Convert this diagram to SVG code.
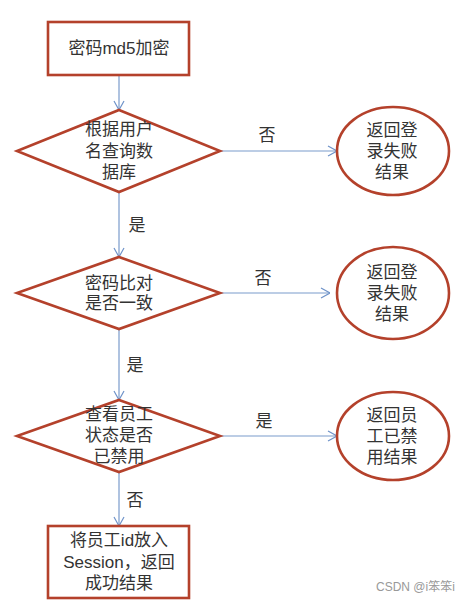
<svg xmlns="http://www.w3.org/2000/svg" width="476" height="602" viewBox="0 0 476 602">
<defs>
<marker id="arr" viewBox="0 0 10 12" refX="10" refY="6" markerWidth="10" markerHeight="12" markerUnits="userSpaceOnUse" orient="auto">
<path d="M1,1 L10,6 L1,11" fill="none" stroke="#6f93c9" stroke-width="1.2"/>
</marker>
<style>
.box{fill:#fff;stroke:#b4412b;stroke-width:2.6}
.t{font-family:"Liberation Sans","Noto Sans CJK SC",sans-serif;font-size:17px;fill:#333;text-anchor:middle;dominant-baseline:central}
.c{stroke:#7a9bcc;stroke-width:1.2;fill:none;marker-end:url(#arr)}
.wm{font-family:"Liberation Sans","Noto Sans CJK SC",sans-serif;font-size:12px;fill:#999}
</style>
</defs>
<rect width="476" height="602" fill="#fff"/>
<g id="connectors">
<line class="c" x1="119" y1="76" x2="119" y2="110"/>
<line class="c" x1="220" y1="151" x2="337" y2="151"/>
<text class="t" x="267" y="135">否</text>
<line class="c" x1="119" y1="192" x2="119" y2="257"/>
<text class="t" x="137" y="225">是</text>
<line class="c" x1="220" y1="293" x2="330" y2="293"/>
<text class="t" x="263" y="278">否</text>
<line class="c" x1="119" y1="329" x2="119" y2="400"/>
<text class="t" x="135" y="365">是</text>
<line class="c" x1="220" y1="436" x2="337" y2="436"/>
<text class="t" x="264" y="421">是</text>
<line class="c" x1="119" y1="472" x2="119" y2="526"/>
<text class="t" x="135" y="500">否</text>
</g>
<g id="md5">
<rect class="box" x="48" y="22" width="141" height="53"/>
<text class="t" x="119" y="48">密码md5加密</text>
</g>
<g id="query">
<polygon class="box" points="119,110 220,151 119,192 17,151"/>
<text class="t" x="119" y="129">根据用户</text>
<text class="t" x="119" y="151">名查询数</text>
<text class="t" x="119" y="172">据库</text>
</g>
<g id="fail1">
<ellipse class="box" cx="393" cy="151" rx="56" ry="44"/>
<text class="t" x="392" y="130">返回登</text>
<text class="t" x="392" y="151">录失败</text>
<text class="t" x="392" y="172">结果</text>
</g>
<g id="compare">
<polygon class="box" points="119,257 220,293 119,329 17,293"/>
<text class="t" x="119" y="283">密码比对</text>
<text class="t" x="119" y="303">是否一致</text>
</g>
<g id="fail2">
<ellipse class="box" cx="393" cy="293" rx="56" ry="46"/>
<text class="t" x="392" y="272">返回登</text>
<text class="t" x="392" y="293">录失败</text>
<text class="t" x="392" y="314">结果</text>
</g>
<g id="status">
<polygon class="box" points="119,400 220,436 119,472 17,436"/>
<text class="t" x="119" y="414">查看员工</text>
<text class="t" x="119" y="435">状态是否</text>
<text class="t" x="119" y="456">已禁用</text>
</g>
<g id="disabled">
<ellipse class="box" cx="393" cy="436" rx="56" ry="44"/>
<text class="t" x="392" y="415">返回员</text>
<text class="t" x="392" y="436">工已禁</text>
<text class="t" x="392" y="457">用结果</text>
</g>
<g id="success">
<rect class="box" x="48" y="526" width="141" height="72"/>
<text class="t" x="119" y="540">将员工id放入</text>
<text class="t" x="119" y="562">Session，返回</text>
<text class="t" x="119" y="583">成功结果</text>
</g>
<text class="wm" x="376" y="591">CSDN @i笨笨i</text>
</svg>
